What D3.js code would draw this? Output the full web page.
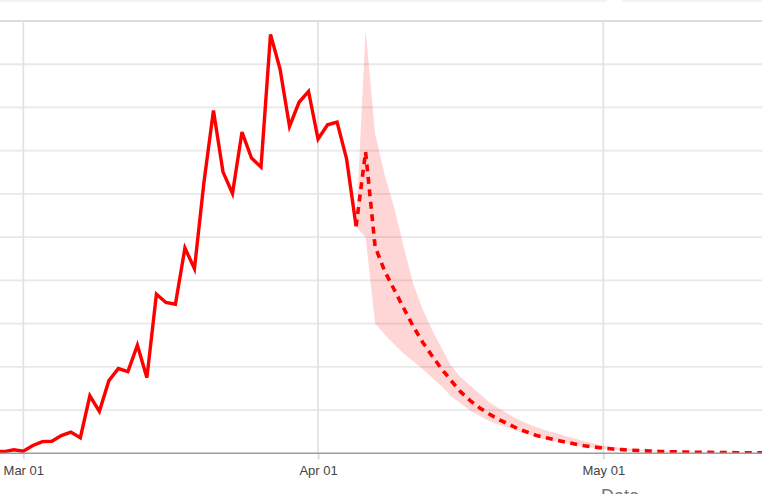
<!DOCTYPE html>
<html>
<head>
<meta charset="utf-8">
<script src="https://cdn.jsdelivr.net/npm/d3@7"></script>
<style>
  html, body { margin: 0; padding: 0; background: #fff; }
  svg { display: block; }
</style>
</head>
<body>
<svg id="chart" width="762" height="494"></svg>
<script>
// ---- Data ----
const observedDates = [
  "2020-02-27","2020-02-28","2020-02-29","2020-03-01","2020-03-02","2020-03-03","2020-03-04",
  "2020-03-05","2020-03-06","2020-03-07","2020-03-08","2020-03-09","2020-03-10","2020-03-11",
  "2020-03-12","2020-03-13","2020-03-14","2020-03-15","2020-03-16","2020-03-17","2020-03-18",
  "2020-03-19","2020-03-20","2020-03-21","2020-03-22","2020-03-23","2020-03-24","2020-03-25",
  "2020-03-26","2020-03-27","2020-03-28","2020-03-29","2020-03-30","2020-03-31","2020-04-01",
  "2020-04-02","2020-04-03","2020-04-04","2020-04-05"
];
const observedValues = [
  5, 4, 8, 5, 18, 27, 28,
  41, 49, 36, 133, 97, 168, 196,
  189, 250, 175, 368, 349, 345, 475,
  427, 627, 793, 651, 601, 743, 683,
  662, 969, 889, 756, 812, 837, 727,
  760, 766, 681, 525
];

const forecastDates = [
  "2020-04-05","2020-04-06","2020-04-07","2020-04-08","2020-04-09","2020-04-10","2020-04-11",
  "2020-04-12","2020-04-13","2020-04-14","2020-04-15","2020-04-16","2020-04-17","2020-04-18",
  "2020-04-19","2020-04-20","2020-04-21","2020-04-22","2020-04-23","2020-04-24","2020-04-25",
  "2020-04-26","2020-04-27","2020-04-28","2020-04-29","2020-04-30","2020-05-01","2020-05-02",
  "2020-05-03","2020-05-04","2020-05-05","2020-05-06","2020-05-07","2020-05-08","2020-05-09",
  "2020-05-10","2020-05-11","2020-05-12","2020-05-13","2020-05-14","2020-05-15","2020-05-16",
  "2020-05-17","2020-05-18"
];
const forecastMean = [
  525, 697, 478, 422, 379, 336, 294,
  257, 225, 195, 168, 142, 122, 105,
  91, 78, 68, 57, 49, 41, 36,
  31, 26, 21.5, 17.5, 14.5, 12, 10,
  8.5, 7, 6, 5, 4.3, 3.7, 3.2,
  2.8, 2.4, 2.1, 1.8, 1.6, 1.4, 1.2,
  1.1, 1.0
];
const forecastLower = [
  525, 499, 301, 275, 252, 231, 213,
  195, 175, 155, 132, 115, 99, 86,
  75, 66, 59, 51, 44, 37, 32,
  28, 23, 19, 15.5, 12.5, 10, 8.5,
  7, 6, 5, 4.2, 3.6, 3.1, 2.7,
  2.3, 2, 1.7, 1.5, 1.3, 1.1, 1,
  0.9, 0.8
];
const forecastUpper = [
  525, 981, 740, 645, 569, 478, 393,
  333, 285, 243, 202, 176, 157, 138,
  118, 104, 91, 79, 69, 60, 53,
  47, 40, 34, 28, 23, 18, 15,
  12.5, 10.5, 8.5, 7.2, 6, 5.2, 4.4,
  3.8, 3.3, 2.9, 2.5, 2.2, 1.9, 1.7,
  1.5, 1.3
];

const xTickDates = ["2020-03-01","2020-04-01","2020-05-01"];
const yTicks = [0,100,200,300,400,500,600,700,800,900,1000];
const xTitle = "Date";

// ---- Drawing ----
const W = 762, H = 494;
const parse = d3.utcParse("%Y-%m-%d");
const svg = d3.select("#chart");

const x = d3.scaleUtc()
  .domain([parse("2020-03-01"), parse("2020-05-01")])
  .range([23.3, 603.3]);
const y = d3.scaleLinear().domain([0, 1000]).range([453.3, 21]);

// faint top strip
svg.append("rect").attr("x", 0).attr("y", 0).attr("width", 607).attr("height", 2).attr("fill", "#f3f3f3");
svg.append("rect").attr("x", 622).attr("y", 0).attr("width", W - 622).attr("height", 2).attr("fill", "#f3f3f3");

// horizontal gridlines
svg.append("g").selectAll("line").data(yTicks.filter(d => d > 0)).join("line")
  .attr("x1", 0).attr("x2", W)
  .attr("y1", d => y(d)).attr("y2", d => y(d))
  .attr("stroke", d => d === 1000 ? "#dcdcdc" : "#e8e8e8")
  .attr("stroke-width", 1.8);

// vertical gridlines
svg.append("g").selectAll("line").data(xTickDates.map(parse)).join("line")
  .attr("x1", d => x(d)).attr("x2", d => x(d))
  .attr("y1", y(1000)).attr("y2", y(0))
  .attr("stroke", "#e3e3e3")
  .attr("stroke-width", 1.8);

// clip
svg.append("clipPath").attr("id", "clip")
  .append("rect").attr("x", 0).attr("y", 0).attr("width", W).attr("height", y(0));

const plot = svg.append("g").attr("clip-path", "url(#clip)");

const fData = forecastDates.map((d, i) => ({
  date: parse(d), mean: forecastMean[i], lo: forecastLower[i], hi: forecastUpper[i]
}));
const oData = observedDates.map((d, i) => ({ date: parse(d), v: observedValues[i] }));

// band
plot.append("path").datum(fData)
  .attr("d", d3.area().x(d => x(d.date)).y0(d => y(d.lo)).y1(d => y(d.hi)))
  .attr("fill", "rgba(255,0,0,0.16)")
  .attr("stroke", "none");

// observed line
plot.append("path").datum(oData)
  .attr("d", d3.line().x(d => x(d.date)).y(d => y(d.v)))
  .attr("fill", "none")
  .attr("stroke", "#ff0000")
  .attr("stroke-width", 3.4)
  .attr("stroke-linejoin", "miter");

// forecast line
plot.append("path").datum(fData)
  .attr("d", d3.line().x(d => x(d.date)).y(d => y(d.mean)))
  .attr("fill", "none")
  .attr("stroke", "#ff0000")
  .attr("stroke-width", 3.6)
  .attr("stroke-dasharray", "7,5.5");

// x axis
const axis = d3.axisBottom(x)
  .tickValues(xTickDates.map(parse))
  .tickFormat(d3.utcFormat("%b %d"))
  .tickSize(6)
  .tickPadding(6);

const gx = svg.append("g").attr("transform", `translate(0,${y(0)})`).call(axis);
gx.select(".domain").remove();
gx.selectAll(".tick line").attr("stroke", "#d8d8d8").attr("stroke-width", 1.8);
gx.selectAll(".tick text")
  .attr("fill", "#444")
  .style("font-family", "'Liberation Sans', Arial, sans-serif")
  .style("font-size", "13px");

// zero line
svg.append("line")
  .attr("x1", 0).attr("x2", W)
  .attr("y1", y(0)).attr("y2", y(0))
  .attr("stroke", "#9c9c9c").attr("stroke-width", 1.4);

// axis title (mostly cut off)
svg.append("text")
  .attr("x", 620).attr("y", 502)
  .attr("text-anchor", "middle")
  .attr("fill", "#777")
  .style("font-family", "'Liberation Sans', Arial, sans-serif")
  .style("font-size", "18px")
  .text(xTitle);
</script>
</body>
</html>
